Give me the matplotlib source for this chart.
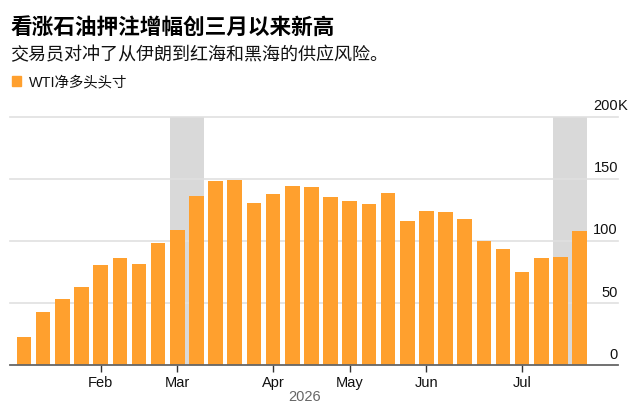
import matplotlib.pyplot as plt
import numpy as np

# weekly WTI net long positions (thousand contracts)
wti_net_long = [22.5, 42.6, 53.4, 63.1, 80.5, 86.1, 81.3, 98.2, 108.4, 136.3,
                147.8, 149.1, 130.3, 137.6, 144.0, 143.2, 135.4, 131.9, 129.5, 138.4,
                115.6, 123.9, 123.0, 117.7, 100.0, 93.6, 74.6, 86.1, 86.9, 108.1]
month_ticks = [4, 8, 13, 17, 21, 26]
month_labels = ['Feb', 'Mar', 'Apr', 'May', 'Jun', 'Jul']
shaded_weeks = [(8, 9), (28, 29)]
y_ticks = [0, 50, 100, 150, 200]
y_labels = ['0', '50', '100', '150', '200K']

latin = ['Liberation Sans', 'Noto Sans CJK SC']
cjk = ['Noto Sans CJK SC', 'Liberation Sans']
plt.rcParams['font.family'] = latin

fig = plt.figure(figsize=(6.37, 4.14), dpi=100)
W, H = 637, 414
# axes placed so the baseline sits at y=366px and 200K at y=117.5px
ax = fig.add_axes([10 / W, 1 - 366 / H, 608 / W, (366 - 117.5) / H])

x = np.arange(len(wti_net_long))
ax.set_xlim(-0.73, 31.0)
ax.set_ylim(0, 200)

for a, b in shaded_weeks:
    ax.axvspan(a - 0.38, b + 0.38, color='#d9d9d9', lw=0, zorder=0)

for y in y_ticks[1:]:
    ax.axhline(y, color='#e0e0e0', lw=1.2, zorder=1, clip_on=False)

ax.bar(x, wti_net_long, width=0.76, color='#ffa02e', zorder=2)
ax.axhline(0, color='#666666', lw=1.3, zorder=3, clip_on=False)

for s in ax.spines.values():
    s.set_visible(False)
ax.set_yticks([])
ax.set_xticks(month_ticks)
ax.set_xticklabels(month_labels, fontsize=10.5, color='#111111')
ax.tick_params(axis='x', length=5, width=1, color='#333333', pad=2)

# right-side value labels sitting above the gridlines, the K hangs past the edge
for y, lab in zip(y_ticks, y_labels):
    num = lab.rstrip('K')
    ax.text(31.0, y + 3.5, num, ha='right', va='bottom', fontsize=10.5,
            color='#111111')
    if lab.endswith('K'):
        ax.text(31.0, y + 3.5, 'K', ha='left', va='bottom', fontsize=10.5,
                color='#111111')

fig.text(305 / W, 1 - 397 / H, '2026', ha='center', va='center',
         fontsize=10.5, color='#666666')

fig.text(10 / W, 1 - 27 / H, '看涨石油押注增幅创三月以来新高', family=cjk,
         fontsize=15.6, fontweight='bold', color='#000000', va='center')
fig.text(10 / W, 1 - 55 / H, '交易员对冲了从伊朗到红海和黑海的供应风险。', family=cjk,
         fontsize=13, color='#111111', va='center')
fig.patches.append(plt.Rectangle((11.7 / W, 1 - 86.5 / H), 9 / W, 9.5 / H,
                                 transform=fig.transFigure, color='#ffa02e'))
fig.text(29 / W, 1 - 82 / H, 'WTI净多头头寸', family=latin,
         fontsize=10.4, color='#111111', va='center')

fig.savefig('out.png', dpi=100)
